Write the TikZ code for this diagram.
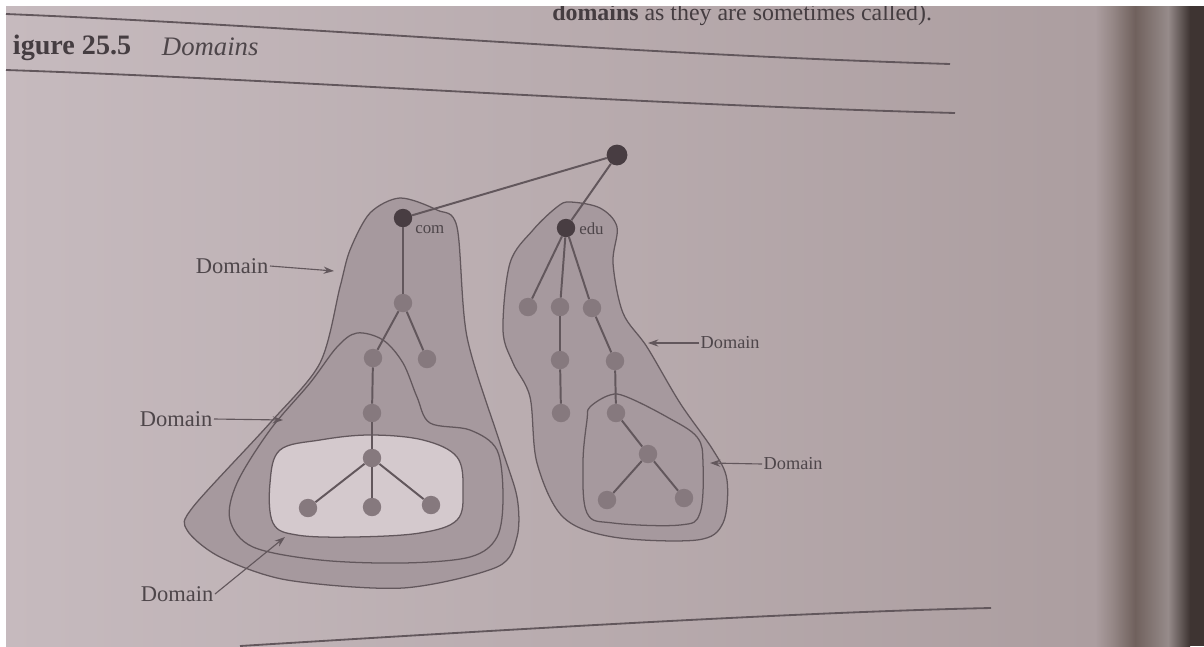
\documentclass[tikz,border=0pt]{standalone}
\usepackage{fontspec}
\setmainfont{Liberation Serif}
\usetikzlibrary{arrows.meta,positioning,calc}
\definecolor{paperlight}{RGB}{198,186,190}
\definecolor{paperdark}{RGB}{172,158,160}
\definecolor{guttera}{RGB}{150,136,135}
\definecolor{gutterb}{RGB}{112,97,93}
\definecolor{gutterc}{RGB}{150,139,138}
\definecolor{gutterd}{RGB}{62,52,50}
\definecolor{zonefill}{RGB}{166,153,158}
\definecolor{zonelight}{RGB}{212,201,205}
\definecolor{ink}{RGB}{98,87,92}
\definecolor{hostgray}{RGB}{134,121,126}
\definecolor{hostdark}{RGB}{72,61,66}
\tikzset{
  >=Stealth,
  host/.style={circle, fill=hostgray, inner sep=0pt, minimum size=0.46cm},
  top host/.style={host, fill=hostdark},
  link/.style={draw=ink, line width=1.4pt},
  zone/.style={draw=ink, line width=0.9pt, fill=zonefill},
  pointer/.style={draw=ink, line width=0.8pt, -{Stealth[length=2.6mm,width=1.8mm]}}
}

\begin{document}
\begin{tikzpicture}[x=0.025cm, y=-0.025cm,
    % styles for this figure
    tag/.style={font=\fontsize{16}{18}\selectfont, text=ink!80!black, inner sep=1pt},
    small tag/.style={font=\fontsize{13}{15}\selectfont, text=ink!80!black, inner sep=1pt},
    name tag/.style={font=\fontsize{12}{14}\selectfont, text=ink!80!black, inner sep=0pt},
    page rule/.style={draw=ink, line width=1.3pt}
]
\useasboundingbox (0,0) rectangle (1204,646);

% --- Page and book edge ---
\fill[white] (0,0) rectangle (1204,646);
\shade[left color=paperlight, right color=paperdark] (6,6) rectangle (1095,646);
\shade[left color=paperdark, right color=guttera] (1095,6) rectangle (1112,646);
\shade[left color=guttera, right color=gutterb] (1112,6) rectangle (1135,646);
\shade[left color=gutterb, right color=gutterc] (1135,6) rectangle (1168,646);
\shade[left color=gutterc, right color=gutterd] (1168,6) rectangle (1190,646);
\fill[gutterd] (1190,6) rectangle (1204,646);

% --- Caption and rules ---
\node[anchor=base east, font=\fontsize{17}{19}\selectfont, text=ink!70!black] (topline) at (937,20)
    {\textbf{domains} as they are sometimes called).};
\fill[white] (0,0) rectangle (1204,6);
\node[anchor=base west, font=\fontsize{20}{22}\selectfont\bfseries, text=ink!70!black] (fignum) at (8,54) {igure 25.5};
\node[anchor=base west, font=\fontsize{19}{21}\selectfont\itshape, text=ink!80!black] (figtitle) at (157,55) {Domains};
\draw[page rule] (6,14) .. controls (300,26) and (620,54) .. (950,64);
\draw[page rule] (6,70) .. controls (300,80) and (620,104) .. (955,113);
\draw[page rule] (240,646) .. controls (500,630) and (800,612) .. (991,608);

% --- Domain regions ---
\draw[zone] plot[smooth cycle, tension=0.5] coordinates {
    (400,198) (437,210) (457,227) (467,337) (500,443) (517,497) (517,537) (497,567)
    (403,588) (287,580) (220,557) (187,530) (193,507) (270,423) (320,363) (340,287)
    (350,250) (370,213)};
\draw[zone] plot[smooth cycle, tension=0.55] coordinates {
    (357,333) (383,340) (403,363) (417,397) (430,423) (470,430) (497,450) (503,497)
    (497,537) (470,557) (403,563) (320,560) (253,547) (230,520) (237,483) (270,430)
    (310,383) (337,347)};
\draw[zone, fill=zonelight] plot[smooth cycle, tension=0.6] coordinates {
    (280,450) (320,440) (370,435) (423,440) (457,457) (463,490) (457,520) (420,533)
    (353,537) (297,535) (273,523) (270,483)};
\draw[zone] plot[smooth cycle, tension=0.55] coordinates {
    (570,202) (600,208) (617,227) (613,263) (623,313) (647,347) (680,403) (713,450)
    (727,480) (723,523) (697,540) (613,537) (563,517) (537,463) (530,397) (513,363)
    (503,330) (510,263) (533,230) (557,207)};
\draw[zone] plot[smooth cycle, tension=0.6] coordinates {
    (590,407) (610,395) (627,397) (667,417) (697,437) (703,463) (700,513) (680,525)
    (613,523) (587,513) (583,463) (587,420)};

% --- Hosts ---
\node[top host, minimum size=0.52cm] (root) at (617,155) {};
\node[top host] (com) at (403,218) {};
\node[top host] (edu) at (566,228) {};
\node[name tag, anchor=west] (comtag) at (415,230) {com};
\node[name tag, anchor=west] (edutag) at (579,229) {edu};

\node[host] (c1) at (403,303) {};
\node[host] (c2) at (373,358) {};
\node[host] (c3) at (427,359) {};
\node[host] (c4) at (372,413) {};
\node[host] (c5) at (372,458) {};
\node[host] (c6) at (308,508) {};
\node[host] (c7) at (372,507) {};
\node[host] (c8) at (431,505) {};

\node[host] (e1) at (528,307) {};
\node[host] (e2) at (560,307) {};
\node[host] (e3) at (592,308) {};
\node[host] (e4) at (560,360) {};
\node[host] (e5) at (561,413) {};
\node[host] (e6) at (615,361) {};
\node[host] (e7) at (616,413) {};
\node[host] (e8) at (648,454) {};
\node[host] (e9) at (607,500) {};
\node[host] (e10) at (684,498) {};

% --- Links ---
\foreach \a/\b in {root/com, root/edu, com/c1, c1/c2, c1/c3, c2/c4, c4/c5, c5/c6, c5/c7, c5/c8,
                   edu/e1, edu/e2, edu/e3, e2/e4, e4/e5, e3/e6, e6/e7, e7/e8, e8/e9, e8/e10} {
    \draw[link] (\a) -- (\b);
}

% --- Domain labels ---
\node[tag, anchor=east] (lblA) at (270,266) {Domain};
\coordinate (tipA) at (334,271);
\draw[pointer] (lblA.east) -- (tipA);

\node[tag, anchor=east] (lblB) at (214,419) {Domain};
\coordinate (tipB) at (283,420);
\draw[pointer] (lblB.east) -- (tipB);

\node[tag, anchor=east] (lblC) at (215,594) {Domain};
\coordinate (tipC) at (285,537);
\draw[pointer] (lblC.east) -- (tipC);

\node[small tag, anchor=west] (lblD) at (699,343) {Domain};
\coordinate (tipD) at (648,343);
\draw[pointer] (lblD.west) -- (tipD);

\node[small tag, anchor=west] (lblE) at (762,464) {Domain};
\coordinate (tipE) at (710,463);
\draw[pointer] (lblE.west) -- (tipE);

\end{tikzpicture}
\end{document}
